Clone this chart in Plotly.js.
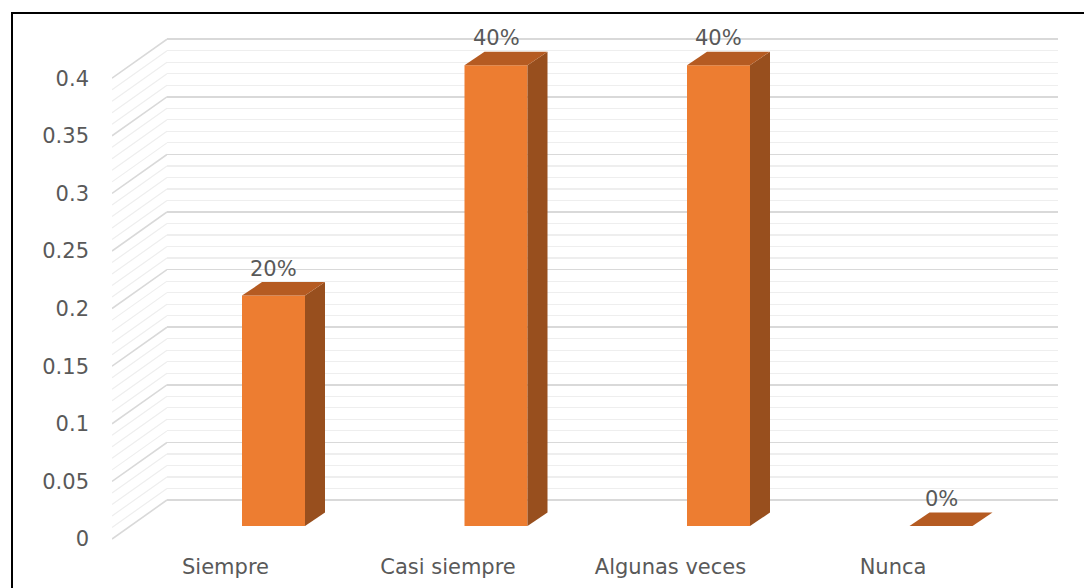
<!DOCTYPE html>
<html>
<head>
<meta charset="utf-8">
<script src="https://cdn.plot.ly/plotly-3.0.1.min.js"></script>
<style>
  html, body { margin: 0; padding: 0; background: #ffffff; }
  #chart { width: 1084px; height: 588px; }
</style>
</head>
<body>
<div id="chart"></div>
<script>
// Answer categories and the share of responses for each
const categories = ['Siempre', 'Casi siempre', 'Algunas veces', 'Nunca'];
const shares = [0.2, 0.4, 0.4, 0];

// Value axis: labelled every 0.05, light minor grid every 0.01
const valueMax = 0.4;
const majorStep = 0.05;
const minorStep = 0.01;

// ---- page geometry (pixels) ----
const W = 1084, H = 588;
const PX_PER_UNIT = 1152;           // vertical pixels for 1.0 of value
const PITCH = 222.5;                // horizontal pixels per category slot
const BAR_PX = 63;                  // width of a bar's front face
const BAR_DEPTH_X = 20, BAR_DEPTH_Y = 13.5;   // receding bar depth
const FIRST_BAR_CENTER = 273.5;     // centre of the first bar's front face
const BAR_ZERO = 526;               // baseline of bar front faces
const WALL_ZERO = 500;              // baseline on the back wall
const FRONT_ZERO = 539;             // baseline on the front edge
const WALL_LEFT = 167, WALL_RIGHT = 1058;
const FRONT_LEFT = 112;
const LABEL_SHIFT = -48;            // category labels sit on the front edge

const col = {
  face: '#ED7D31', top: '#B55B22', side: '#984F1E',
  text: '#595959', grid: '#d9d9d9', minor: '#eeeeee'
};
const FONT = 'DejaVu Sans, Open Sans, sans-serif';
const FONT_SIZE = 21;

function ydom(zeroPx, r) {
  const bot = zeroPx - r[0] * PX_PER_UNIT;
  const top = zeroPx - r[1] * PX_PER_UNIT;
  return [(H - bot) / H, (H - top) / H];
}
function xdom(l, r) { return [l / W, r / W]; }

const n = categories.length;
const idx = categories.map((_, i) => i);
const catRange = [-0.5, n - 0.5];
const barLeft = FIRST_BAR_CENTER - 0.5 * PITCH;
const barRight = barLeft + n * PITCH;

const wallRange = [-0.002, valueMax + 0.002];
const sideRange = [-0.045, valueMax + 0.002];
const barRange = [-0.01, valueMax + 0.05];
const frontRange = [-0.002, valueMax + 0.002];

const hidden = { showgrid: false, zeroline: false, showticklabels: false, ticks: '', showline: false };

// ---- traces ----
const traces = [
  // back wall and side wall only carry grid lines
  { type: 'scatter', x: [], y: [], xaxis: 'x', yaxis: 'y', hoverinfo: 'skip', showlegend: false },
  { type: 'scatter', x: [], y: [], xaxis: 'x2', yaxis: 'y2', hoverinfo: 'skip', showlegend: false },
  {
    type: 'bar', x: idx, y: shares, xaxis: 'x3', yaxis: 'y3',
    width: BAR_PX / PITCH,
    marker: { color: col.face, line: { width: 0 } },
    hoverinfo: 'skip', showlegend: false
  },
  { type: 'scatter', x: [], y: [], xaxis: 'x4', yaxis: 'y4', hoverinfo: 'skip', showlegend: false }
];

// ---- shapes ----
const shapes = [];

// receding grid lines on the left side wall
const sideDrop = (WALL_ZERO - FRONT_ZERO) / PX_PER_UNIT; // negative: front edge sits lower
const steps = Math.round(valueMax / minorStep);
for (let k = 0; k <= steps; k++) {
  const v = k * minorStep;
  const major = k % Math.round(majorStep / minorStep) === 0;
  shapes.push({
    type: 'line', xref: 'x2', yref: 'y2', layer: 'below',
    x0: 1, y0: v, x1: 0, y1: v + sideDrop,
    line: { color: major ? col.grid : col.minor, width: major ? 1.6 : 1.2 }
  });
}

// top and side faces that give each bar its depth
const hw = BAR_PX / PITCH / 2;
const ddx = BAR_DEPTH_X / PITCH;
const ddy = BAR_DEPTH_Y / PX_PER_UNIT;
shares.forEach((v, i) => {
  shapes.push({
    type: 'path', xref: 'x3', yref: 'y3', layer: 'above',
    path: `M${i + hw},0 L${i + hw + ddx},${ddy} L${i + hw + ddx},${v + ddy} L${i + hw},${v} Z`,
    fillcolor: col.side, line: { width: 0 }
  });
  shapes.push({
    type: 'path', xref: 'x3', yref: 'y3', layer: 'above',
    path: `M${i - hw},${v} L${i + hw},${v} L${i + hw + ddx},${v + ddy} L${i - hw + ddx},${v + ddy} Z`,
    fillcolor: col.top, line: { width: 0 }
  });
});

// chart frame
shapes.push({
  type: 'rect', xref: 'paper', yref: 'paper', layer: 'above',
  x0: 12 / W, x1: 1.02, y0: -0.02, y1: (H - 13) / H,
  line: { color: '#000000', width: 2 }, fillcolor: 'rgba(0,0,0,0)'
});

// ---- value labels above the bars ----
const annotations = shares.map((v, i) => ({
  xref: 'x3', yref: 'y3', x: i, y: v,
  text: Math.round(v * 100) + '%',
  showarrow: false, yshift: 27,
  font: { family: FONT, size: FONT_SIZE, color: col.text }
}));

const layout = {
  width: W, height: H,
  margin: { l: 0, r: 0, t: 0, b: 0 },
  paper_bgcolor: '#ffffff',
  plot_bgcolor: 'rgba(0,0,0,0)',
  showlegend: false,
  // back wall
  xaxis: Object.assign({}, hidden, { domain: xdom(WALL_LEFT, WALL_RIGHT), range: [0, 1], anchor: 'y' }),
  yaxis: {
    domain: ydom(WALL_ZERO, wallRange), range: wallRange, anchor: 'x',
    tick0: 0, dtick: majorStep, showgrid: true, gridcolor: col.grid, gridwidth: 1.6,
    zeroline: false, showticklabels: false, ticks: '', showline: false,
    minor: { tick0: 0, dtick: minorStep, showgrid: true, gridcolor: col.minor, gridwidth: 1.2, ticks: '' }
  },
  // left side wall
  xaxis2: Object.assign({}, hidden, { domain: xdom(FRONT_LEFT, WALL_LEFT), range: [0, 1], anchor: 'y2' }),
  yaxis2: Object.assign({}, hidden, { domain: ydom(WALL_ZERO, sideRange), range: sideRange, anchor: 'x2' }),
  // bars
  xaxis3: Object.assign({}, hidden, { domain: xdom(barLeft, barRight), range: catRange, anchor: 'y3' }),
  yaxis3: Object.assign({}, hidden, { domain: ydom(BAR_ZERO, barRange), range: barRange, anchor: 'x3' }),
  // front edge: category and value labels
  xaxis4: {
    domain: xdom(barLeft + LABEL_SHIFT, barRight + LABEL_SHIFT), range: catRange, anchor: 'y4',
    tickmode: 'array', tickvals: idx, ticktext: categories,
    showgrid: false, zeroline: false, showline: false, ticks: '',
    ticklabelstandoff: 11,
    tickfont: { family: FONT, size: FONT_SIZE, color: col.text }
  },
  yaxis4: {
    domain: ydom(FRONT_ZERO, frontRange), range: frontRange,
    anchor: 'free', position: 89 / W,
    tick0: 0, dtick: majorStep,
    showgrid: false, zeroline: false, showline: false, ticks: '',
    tickfont: { family: FONT, size: FONT_SIZE, color: col.text }
  },
  shapes: shapes,
  annotations: annotations
};

Plotly.newPlot('chart', traces, layout, { displayModeBar: false, staticPlot: true });
</script>
</body>
</html>
